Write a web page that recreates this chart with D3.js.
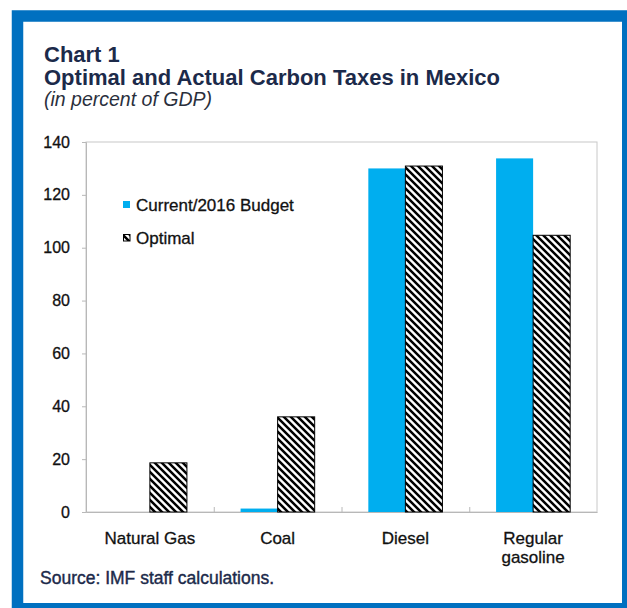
<!DOCTYPE html>
<html><head><meta charset="utf-8">
<script src="https://cdn.jsdelivr.net/npm/d3@7"></script>
<style>body{margin:0;background:#fff;overflow:hidden}</style>
</head><body><svg id="c" width="627" height="608"></svg>
<script>
const categories = ["Natural Gas", "Coal", "Diesel", "Regular gasoline"];
const categoryLines = [["Natural Gas"], ["Coal"], ["Diesel"], ["Regular", "gasoline"]];
const seriesNames = ["Current/2016 Budget", "Optimal"];
const currentValues = [0, 1.3, 130.0, 133.8];
const optimalValues = [18.6, 36.0, 130.9, 104.7];
const yTicks = [0, 20, 40, 60, 80, 100, 120, 140];
const titleLines = ["Chart 1", "Optimal and Actual Carbon Taxes in Mexico"];
const subtitle = "(in percent of GDP)";
const sourceText = "Source: IMF staff calculations.";

const FONT = "'Liberation Sans', Arial, sans-serif";
const svg = d3.select("#c");
const defs = svg.append("defs");
const pat = defs.append("pattern").attr("id", "hatch").attr("patternUnits", "userSpaceOnUse")
  .attr("width", 7).attr("height", 7);
pat.append("rect").attr("width", 7).attr("height", 7).attr("fill", "#fff");
pat.append("path").attr("d", "M-1,-1 L8,8 M-1,6 L1,8 M6,-1 L8,1")
  .attr("stroke", "#000").attr("stroke-width", 2.5);

// frame
svg.append("rect").attr("x", 17.5).attr("y", 16).attr("width", 610.25).attr("height", 592.75)
  .attr("fill", "#fff").attr("stroke", "#0070C0").attr("stroke-width", 11.5);

// titles
svg.selectAll("text.title").data(titleLines).join("text").attr("class", "title")
  .attr("x", 44).attr("y", (d, i) => 62 + i * 23)
  .attr("font-family", FONT).attr("font-weight", "bold").attr("font-size", 22)
  .attr("fill", "#1c2a4a").text(d => d);
svg.append("text").attr("x", 44).attr("y", 106).attr("font-family", FONT)
  .attr("font-style", "italic").attr("font-size", 19.5).attr("fill", "#2a2f3c").text(subtitle);

const L = 86, R = 597, T = 142, B = 512;
const x = d3.scaleBand().domain(categories).range([L, R]);
const bw = x.bandwidth();
const xs = d3.scaleBand().domain(seriesNames).range([bw * 0.21, bw * 0.79]);
const y = d3.scaleLinear().domain([0, 140]).range([B, T]);

// plot frame
svg.append("rect").attr("x", L).attr("y", T).attr("width", R - L).attr("height", B - T)
  .attr("fill", "none").attr("stroke", "#c8c8c8").attr("stroke-width", 1);

// y axis
const ya = svg.append("g").attr("transform", `translate(${L},0)`)
  .call(d3.axisLeft(y).tickValues(yTicks).tickSize(4).tickPadding(12).tickFormat(d3.format("d")));
ya.select(".domain").attr("stroke", "#b8b8b8");
ya.selectAll(".tick line").attr("stroke", "#b8b8b8");
ya.selectAll("text").attr("font-family", FONT).attr("font-size", 16).attr("fill", "#111")
  .attr("stroke", "#111").attr("stroke-width", 0.3);

// x axis line + inner ticks
const xa = svg.append("g").attr("transform", `translate(0,${B})`)
  .call(d3.axisBottom(x).tickSize(0).tickFormat(""));
xa.select(".domain").attr("stroke", "#b8b8b8");
xa.selectAll(".tick").remove();
svg.append("g").selectAll("line").data(categories.slice(1)).join("line")
  .attr("x1", d => x(d) + 0.5).attr("x2", d => x(d) + 0.5)
  .attr("y1", B).attr("y2", B - 5).attr("stroke", "#b8b8b8");

// category labels
const cl = svg.append("g").selectAll("text").data(categories).join("text")
  .attr("x", d => x(d) + bw / 2).attr("y", 544).attr("text-anchor", "middle")
  .attr("font-family", FONT).attr("font-size", 17).attr("fill", "#111")
  .attr("stroke", "#111").attr("stroke-width", 0.3);
cl.each(function (d, i) {
  d3.select(this).selectAll("tspan").data(categoryLines[i]).join("tspan")
    .attr("x", x(d) + bw / 2).attr("dy", (t, j) => j === 0 ? 0 : 19).text(t => t);
});

// bars
const gBars = svg.append("g");
gBars.selectAll("rect.cur").data(categories).join("rect").attr("class", "cur")
  .attr("x", d => x(d) + xs(seriesNames[0])).attr("width", xs.bandwidth())
  .attr("y", (d, i) => y(currentValues[i])).attr("height", (d, i) => y(0) - y(currentValues[i]))
  .attr("fill", "#00AEEF");
gBars.selectAll("rect.opt").data(categories).join("rect").attr("class", "opt")
  .attr("x", d => x(d) + xs(seriesNames[1])).attr("width", xs.bandwidth())
  .attr("y", (d, i) => y(optimalValues[i])).attr("height", (d, i) => y(0) - y(optimalValues[i]))
  .attr("fill", "url(#hatch)").attr("stroke", "#000").attr("stroke-width", 1);

// legend
const lg = svg.append("g");
const legY = [205, 238];
lg.append("rect").attr("x", 123).attr("y", legY[0] - 4).attr("width", 7).attr("height", 7).attr("fill", "#00AEEF");
lg.append("rect").attr("x", 123.5).attr("y", legY[1] - 3.5).attr("width", 6.5).attr("height", 6.5)
  .attr("fill", "url(#hatch)").attr("stroke", "#000").attr("stroke-width", 1);
lg.selectAll("text").data(seriesNames).join("text")
  .attr("x", 136).attr("y", (d, i) => legY[i] + 6)
  .attr("font-family", FONT).attr("font-size", 17).attr("fill", "#111")
  .attr("stroke", "#111").attr("stroke-width", 0.3).text(d => d);

// source
svg.append("text").attr("x", 40).attr("y", 584).attr("font-family", FONT).attr("font-size", 17.5)
  .attr("fill", "#1c2a4a").attr("stroke", "#1c2a4a").attr("stroke-width", 0.4).text(sourceText);
</script></body></html>
